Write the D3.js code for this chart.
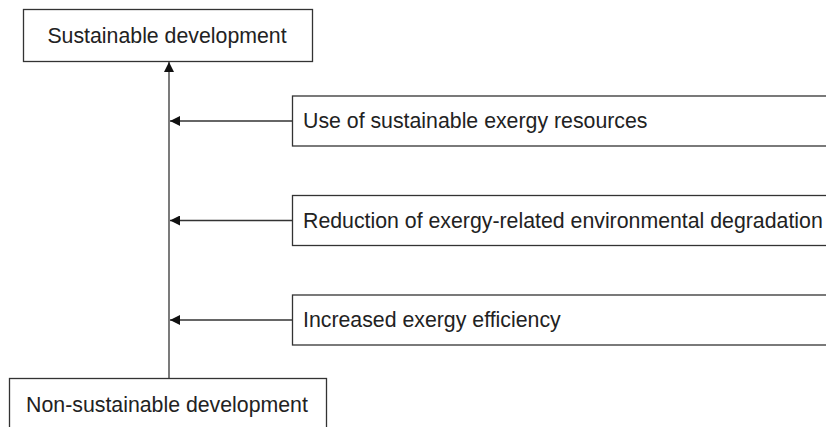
<!DOCTYPE html>
<html>
<head>
<meta charset="utf-8">
<script src="https://cdn.jsdelivr.net/npm/d3@7"></script>
<style>
  body { margin: 0; background: #fff; }
  text { font-family: "Liberation Sans", Arial, sans-serif; fill: #222; }
</style>
</head>
<body>
<svg id="chart" width="826" height="427"></svg>
<script>
// Diagram labels
var goal = "Sustainable development";
var start = "Non-sustainable development";
var factors = [
    "Use of sustainable exergy resources",
    "Reduction of exergy-related environmental degradation",
    "Increased exergy efficiency"
];

var svg = d3.select("#chart");
var stroke = "#333";
var fontSize = 21.3;

svg.append("defs").append("marker")
    .attr("id", "head")
    .attr("viewBox", "0 0 10 10")
    .attr("refX", 10)
    .attr("refY", 5)
    .attr("markerWidth", 10)
    .attr("markerHeight", 10)
    .attr("markerUnits", "userSpaceOnUse")
    .attr("orient", "auto")
    .append("path")
    .attr("d", "M0,0L10,5L0,10Z")
    .attr("fill", "#111");

var y = d3.scalePoint()
    .domain(factors)
    .range([121, 320]);

var spineX = 169;

// main vertical arrow
svg.append("line")
    .attr("x1", spineX).attr("x2", spineX)
    .attr("y1", 378).attr("y2", 62)
    .attr("stroke", stroke).attr("stroke-width", 1.3)
    .attr("marker-end", "url(#head)");

// top box
svg.append("rect")
    .attr("x", 23.5).attr("y", 9.5)
    .attr("width", 289).attr("height", 52)
    .attr("fill", "none").attr("stroke", stroke).attr("stroke-width", 1.3);
svg.append("text")
    .attr("x", 167).attr("y", 36)
    .attr("text-anchor", "middle").attr("dominant-baseline", "central")
    .attr("font-size", fontSize)
    .text(goal);

// bottom box (runs off the bottom edge)
svg.append("rect")
    .attr("x", 9.5).attr("y", 378.5)
    .attr("width", 317).attr("height", 80)
    .attr("fill", "#fff").attr("stroke", stroke).attr("stroke-width", 1.3);
svg.append("text")
    .attr("x", 167).attr("y", 405)
    .attr("text-anchor", "middle").attr("dominant-baseline", "central")
    .attr("font-size", fontSize)
    .text(start);

// factor boxes and arrows
var g = svg.selectAll("g.factor")
    .data(factors)
    .enter().append("g")
    .attr("class", "factor");

g.append("line")
    .attr("x1", 292).attr("x2", spineX + 1)
    .attr("y1", function(d) { return y(d); })
    .attr("y2", function(d) { return y(d); })
    .attr("stroke", stroke).attr("stroke-width", 1.3)
    .attr("marker-end", "url(#head)");

g.append("rect")
    .attr("x", 292.5)
    .attr("y", function(d) { return y(d) - 25; })
    .attr("width", 560).attr("height", 50)
    .attr("fill", "#fff").attr("stroke", stroke).attr("stroke-width", 1.3);

g.append("text")
    .attr("x", 303)
    .attr("y", function(d) { return y(d); })
    .attr("dominant-baseline", "central")
    .attr("font-size", fontSize)
    .text(function(d) { return d; });
</script>
</body>
</html>
